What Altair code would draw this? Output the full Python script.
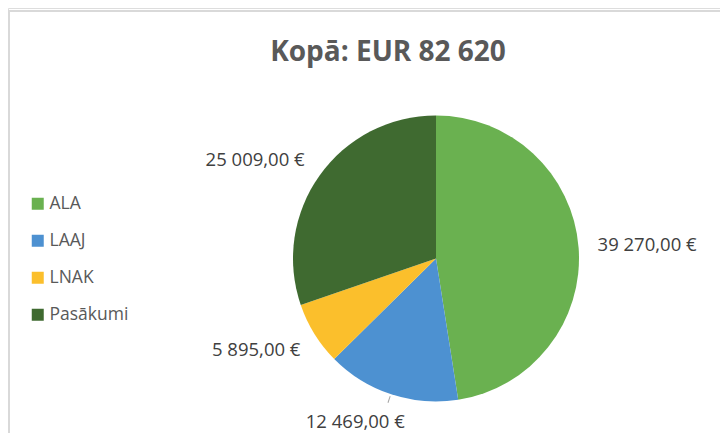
import math
import altair as alt
import pandas as pd

TITLE = "Kopā: EUR 82 620"
categories = ["ALA", "LAAJ", "LNAK", "Pasākumi"]
values = [39270, 12469, 5895, 25009]
colors = ["#6ab150", "#4d91d1", "#fbbf2c", "#3f6a30"]


def fmt(v):
    return f"{v:,.2f}".replace(",", " ").replace(".", ",") + " €"


labels = [fmt(v) for v in values]
total = sum(values)

df = pd.DataFrame({
    "category": categories,
    "value": values,
    "label": labels,
    "order": list(range(len(categories))),
})

CX, CY, R = 428, 250.5, 143
FONT = "Open Sans"

theta_scale = alt.Scale(domain=[0, total], range=[0, 2 * math.pi])

base = (
    alt.Chart(df)
    .transform_window(end="sum(value)", sort=[alt.SortField("order")], frame=[None, 0])
    .transform_calculate(start="datum.end - datum.value", mid="datum.end - datum.value / 2")
)

pie = base.mark_arc(radius=R).encode(
    theta=alt.Theta("start:Q", scale=theta_scale),
    theta2="end:Q",
    x=alt.value(CX),
    y=alt.value(CY),
    color=alt.Color(
        "category:N",
        scale=alt.Scale(domain=categories, range=colors),
        sort=categories,
        legend=alt.Legend(
            orient="none", legendX=21, legendY=187, title=None,
            symbolType="square", symbolSize=144, symbolStrokeWidth=0,
            labelFont=FONT, labelFontSize=17.5, labelColor="#595959",
            rowPadding=18, labelOffset=3, padding=0, symbolOffset=0,
        ),
    ),
)

label_style = {
    "ALA": dict(align="left", dx=19, dy=-2),
    "LAAJ": dict(align="center", dx=-36, dy=28),
    "LNAK": dict(align="right", dx=-14, dy=16),
    "Pasākumi": dict(align="right", dx=-15, dy=-15),
}

text_layers = []
for cat in categories:
    st = label_style[cat]
    text_layers.append(
        base.transform_filter(alt.datum.category == cat)
        .mark_text(radius=R, baseline="middle", font=FONT, fontSize=18.5, color="#404040", **st)
        .encode(
            theta=alt.Theta("mid:Q", scale=theta_scale),
            x=alt.value(CX),
            y=alt.value(CY),
            text="label:N",
        )
    )

leader = (
    base.transform_filter(alt.datum.category == "LAAJ")
    .transform_calculate(mid2=f"datum.mid + {total} * 0.0011")
    .mark_arc(radius=152, radius2=145, color="#a6a6a6")
    .encode(
        theta=alt.Theta("mid:Q", scale=theta_scale),
        theta2="mid2:Q",
        x=alt.value(CX),
        y=alt.value(CY),
    )
)

title_df = pd.DataFrame({"t": [TITLE]})
title = alt.Chart(title_df).mark_text(
    font=FONT, fontSize=28, fontWeight="bold", color="#595959",
    align="center", baseline="alphabetic",
).encode(x=alt.value(380), y=alt.value(53), text="t:N")

frame_df = pd.DataFrame({"a": [0]})
top_line = alt.Chart(frame_df).mark_rule(color="#d9d9d9", strokeWidth=2).encode(
    x=alt.value(0), x2=alt.value(712), y=alt.value(3)
)
left_line = alt.Chart(frame_df).mark_rule(color="#d9d9d9", strokeWidth=2).encode(
    x=alt.value(1), y=alt.value(3), y2=alt.value(425)
)

chart = (
    alt.layer(top_line, left_line, pie, leader, *text_layers, title)
    .properties(width=712, height=425, autosize=alt.AutoSizeParams(type="none"), padding=0)
    .configure_view(stroke=None)
    .configure(background="white")
)

chart.save("out.html", embed_options={"renderer": "svg", "actions": False})
